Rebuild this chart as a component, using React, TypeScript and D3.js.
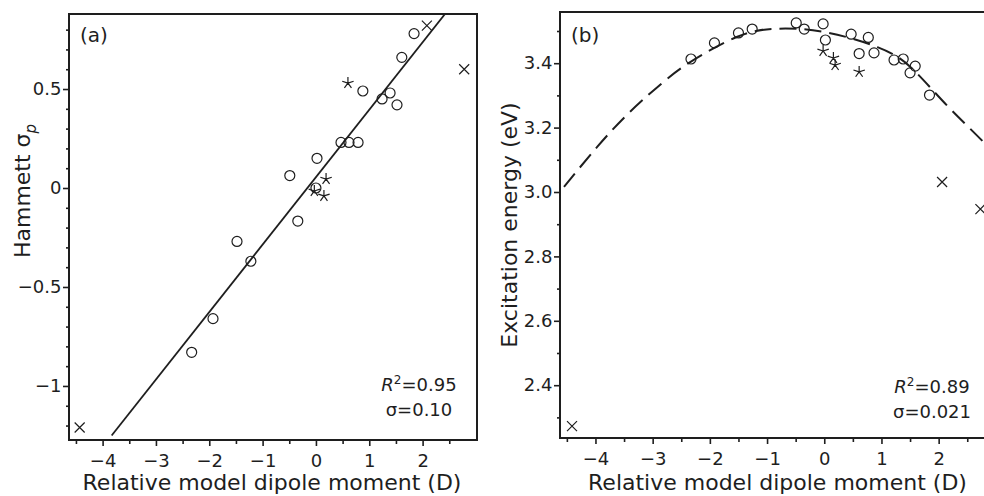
import React, { useRef, useEffect } from 'react';
import * as d3 from 'd3';

// ---- data ----
const xMajor = [-4, -3, -2, -1, 0, 1, 2];
const xMinor = [-4.5, -3.5, -2.5, -1.5, -0.5, 0.5, 1.5, 2.5];

// panel (a): Hammett sigma_p vs dipole
const aYMajor = [-1, -0.5, 0, 0.5];
const aYMinor = [-1.2, -1.1, -0.9, -0.8, -0.7, -0.6, -0.4, -0.3, -0.2, -0.1, 0.1, 0.2, 0.3, 0.4, 0.6, 0.7, 0.8];
const aCircles = [
  [-2.33, -0.83], [-1.93, -0.66], [-1.48, -0.27], [-1.22, -0.37],
  [-0.49, 0.063], [-0.34, -0.167], [0.02, 0.15], [0.0, 0.0],
  [0.47, 0.23], [0.62, 0.23], [0.79, 0.23], [0.88, 0.49],
  [1.24, 0.45], [1.39, 0.48], [1.52, 0.42], [1.61, 0.66], [1.84, 0.78],
];
const aStars = [[0.6, 0.53], [0.19, 0.045], [0.15, -0.04], [-0.03, -0.015]];
const aCrosses = [[2.08, 0.82], [2.78, 0.6], [-4.43, -1.21]];
const aFit = [[-3.83, -1.25], [2.42, 0.879]];

// panel (b): excitation energy vs dipole
const bYMajor = [2.4, 2.6, 2.8, 3.0, 3.2, 3.4];
const bYMinor = [2.3, 2.5, 2.7, 2.9, 3.1, 3.3, 3.5];
const bCircles = [
  [-2.33, 3.413], [-1.92, 3.463], [-1.5, 3.494], [-1.26, 3.506],
  [-0.49, 3.525], [-0.35, 3.506], [-0.02, 3.522], [0.02, 3.472],
  [0.47, 3.49], [0.77, 3.48], [0.61, 3.43], [0.87, 3.432],
  [1.22, 3.41], [1.38, 3.413], [1.59, 3.391], [1.5, 3.37], [1.84, 3.301],
];
const bStars = [[-0.02, 3.438], [0.16, 3.416], [0.19, 3.394], [0.61, 3.373]];
const bCrosses = [[2.06, 3.031], [2.73, 2.947], [-4.41, 2.273]];
const bCurve = [
  [-4.55, 3.016], [-3.97, 3.14], [-3.39, 3.25], [-2.81, 3.342], [-2.33, 3.405],
  [-1.52, 3.482], [-0.84, 3.507], [0, 3.497], [0.93, 3.45], [1.52, 3.386],
  [2.15, 3.268], [2.8, 3.152], [3.1, 3.085],
];

const INK = '#1e1e1e';
const FONT = '"DejaVu Sans", sans-serif';

const panels = [
  {
    id: 'a', box: { l: 69, r: 477, t: 14, b: 440 },
    xd: [-4.63, 3.02], yd: [-1.273, 0.879],
    yMajor: aYMajor, yMinor: aYMinor,
    yFmt: (d) => (d === 0 ? '0' : String(d).replace('-', '\u2212')),
    circles: aCircles, stars: aStars, crosses: aCrosses,
    line: aFit, dashed: false,
    stat: ['0.95', '\u03c3=0.10'], statX: 419, statY: [391, 416],
    yLab: [30, 191],
  },
  {
    id: 'b', box: { l: 560, r: 997, t: 12, b: 438 },
    xd: [-4.62, 3.02], yd: [2.236, 3.559],
    yMajor: bYMajor, yMinor: bYMinor,
    yFmt: (d) => d.toFixed(1),
    circles: bCircles, stars: bStars, crosses: bCrosses,
    line: bCurve, dashed: true,
    stat: ['0.89', '\u03c3=0.021'], statX: 932, statY: [393, 418],
    yLab: [517, 225],
  },
];

const App = () => {
  const svgRef = useRef(null);

  useEffect(() => {
    const svg = d3.select(svgRef.current);
    svg.selectAll('*').remove();

    panels.forEach((p) => {
      const { l, r, t, b } = p.box;
      const x = d3.scaleLinear().domain(p.xd).range([l, r]);
      const y = d3.scaleLinear().domain(p.yd).range([b, t]);
      const g = svg.append('g');

      g.append('clipPath').attr('id', 'clip-' + p.id)
        .append('rect').attr('x', l).attr('y', t).attr('width', r - l).attr('height', b - t);

      // axes
      const xAx = g.append('g').attr('transform', `translate(0,${b})`)
        .call(d3.axisBottom(x).tickValues(xMajor).tickSize(6).tickPadding(8)
          .tickFormat((d) => String(d).replace('-', '\u2212')));
      g.append('g').attr('transform', `translate(0,${b})`)
        .call(d3.axisBottom(x).tickValues(xMinor).tickSize(4).tickFormat(() => ''));
      const yAx = g.append('g').attr('transform', `translate(${l},0)`)
        .call(d3.axisLeft(y).tickValues(p.yMajor).tickSize(6).tickPadding(1.5).tickFormat(p.yFmt));
      g.append('g').attr('transform', `translate(${l},0)`)
        .call(d3.axisLeft(y).tickValues(p.yMinor).tickSize(3).tickFormat(() => ''));
      g.selectAll('.domain').remove();
      g.selectAll('.tick line').attr('stroke', INK).attr('stroke-width', 1.6);
      [xAx, yAx].forEach((a) => a.selectAll('text')
        .attr('fill', INK).style('font-family', FONT).style('font-size', '18px'));

      // frame
      g.append('rect').attr('x', l).attr('y', t).attr('width', r - l).attr('height', b - t)
        .attr('fill', 'none').attr('stroke', INK).attr('stroke-width', 2);

      const plot = g.append('g').attr('clip-path', `url(#clip-${p.id})`);

      // fit line / curve
      const gen = d3.line().x((d) => x(d[0])).y((d) => y(d[1]))
        .curve(p.dashed ? d3.curveNatural : d3.curveLinear);
      plot.append('path').attr('d', gen(p.line)).attr('fill', 'none')
        .attr('stroke', INK).attr('stroke-width', p.dashed ? 2 : 1.8)
        .attr('stroke-dasharray', p.dashed ? '17 8' : null);

      plot.selectAll('circle.pt').data(p.circles).join('circle')
        .attr('cx', (d) => x(d[0])).attr('cy', (d) => y(d[1])).attr('r', 5)
        .attr('fill', 'none').attr('stroke', INK).attr('stroke-width', 1.2);

      const cross = (s) => `M${-s},${-s}L${s},${s}M${-s},${s}L${s},${-s}`;
      plot.selectAll('path.cross').data(p.crosses).join('path')
        .attr('d', cross(5))
        .attr('transform', (d) => `translate(${x(d[0])},${y(d[1])})`)
        .attr('fill', 'none').attr('stroke', INK).attr('stroke-width', 1.2);

      const star = d3.range(5).map((i) => {
        const a = ((-90 + i * 72) * Math.PI) / 180;
        return `M0,0L${6 * Math.cos(a)},${6 * Math.sin(a)}`;
      }).join('');
      plot.selectAll('path.star').data(p.stars).join('path')
        .attr('d', star)
        .attr('transform', (d) => `translate(${x(d[0])},${y(d[1])})`)
        .attr('fill', 'none').attr('stroke', INK).attr('stroke-width', 1.2);

      // panel tag
      g.append('text').attr('x', l + 11).attr('y', 42).text(`(${p.id})`)
        .attr('fill', INK).style('font-family', FONT).style('font-size', '20px');

      // stats
      const st = g.append('text').attr('x', p.statX).attr('y', p.statY[0])
        .attr('text-anchor', 'middle').attr('fill', INK)
        .style('font-family', FONT).style('font-size', '18px');
      st.append('tspan').style('font-style', 'italic').text('R');
      st.append('tspan').attr('dy', -7).style('font-size', '12px').text('2');
      st.append('tspan').attr('dy', 7).text('=' + p.stat[0]);
      g.append('text').attr('x', p.statX).attr('y', p.statY[1])
        .attr('text-anchor', 'middle').attr('fill', INK)
        .style('font-family', FONT).style('font-size', '18px').text(p.stat[1]);

      // x label
      g.append('text').attr('x', (l + r) / 2 - 1).attr('y', 490)
        .attr('text-anchor', 'middle').attr('fill', INK)
        .style('font-family', FONT).style('font-size', '22px')
        .text('Relative model dipole moment (D)');

      // y label
      const yl = g.append('text')
        .attr('transform', `translate(${p.yLab[0]},${p.yLab[1]}) rotate(-90)`)
        .attr('text-anchor', 'middle').attr('fill', INK)
        .style('font-family', FONT).style('font-size', '22px');
      if (p.id === 'a') {
        yl.append('tspan').text('Hammett \u03c3');
        yl.append('tspan').attr('dy', 6).style('font-style', 'italic').style('font-size', '15px').text('p');
      } else {
        yl.text('Excitation energy (eV)');
      }
    });
  }, []);

  return (
    <svg ref={svgRef} width={984} height={496}
      style={{ position: 'absolute', left: 0, top: 0, background: '#fff' }} />
  );
};

export default App;
